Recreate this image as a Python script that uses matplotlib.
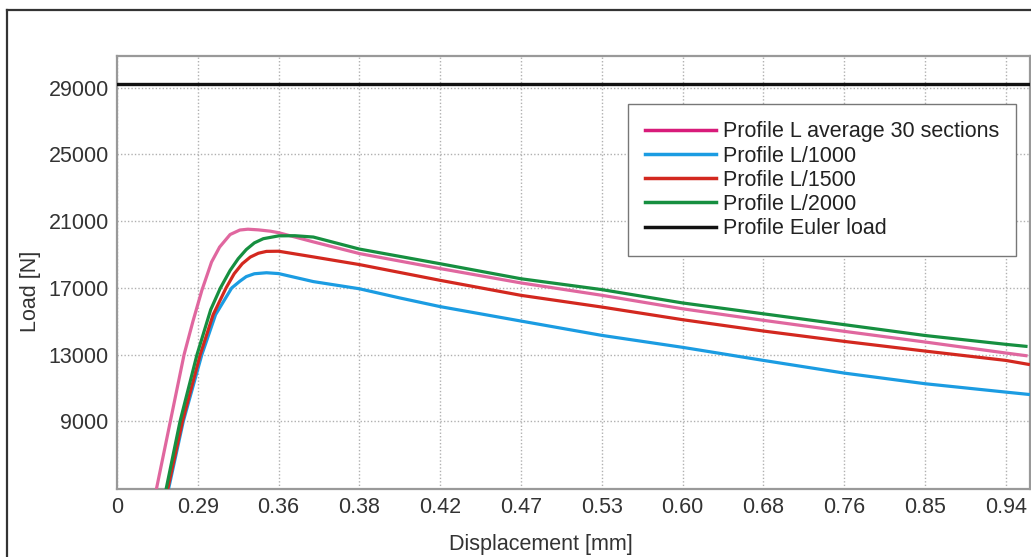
import matplotlib
matplotlib.use("Agg")
import matplotlib.pyplot as plt
from matplotlib.lines import Line2D

plt.rcParams['font.family'] = ['Liberation Sans', 'DejaVu Sans']

# x positions are in tick-slot units (axis labels are non-uniform displacement values)
tick_labels = ["0", "0.29", "0.36", "0.38", "0.42", "0.47", "0.53", "0.60", "0.68", "0.76", "0.85", "0.94"]
y_ticks = [9000, 13000, 17000, 21000, 25000, 29000]

avg_x = [0.49, 0.66, 0.83, 0.94, 1.05, 1.17, 1.27, 1.40, 1.52, 1.62, 1.75, 1.90, 2.0, 2.43,
         3, 4, 5, 6, 7, 8, 9, 10, 11, 11.25]
avg_y = [5000, 9000, 13000, 15000, 16850, 18550, 19450, 20200, 20470, 20520, 20480, 20400, 20310, 19760,
         19060, 18160, 17300, 16560, 15750, 15060, 14400, 13760, 13100, 12940]

l1000_x = [0.64, 0.82, 1.05, 1.22, 1.42, 1.52, 1.60, 1.70, 1.85, 2.0, 2.43,
           3, 3.5, 4, 5, 6, 7, 8, 9, 10, 11, 11.28]
l1000_y = [5000, 9000, 13000, 15400, 17000, 17400, 17680, 17850, 17910, 17860, 17380,
           16950, 16400, 15880, 15015, 14157, 13440, 12657, 11897, 11260, 10757, 10620]

l1500_x = [0.63, 0.81, 1.03, 1.19, 1.35, 1.45, 1.55, 1.65, 1.75, 1.85, 2.0, 2.43,
           3, 4, 5, 6, 7, 8, 9, 10, 11, 11.28]
l1500_y = [5000, 9000, 13000, 15400, 17000, 17850, 18450, 18850, 19080, 19190, 19200, 18860,
           18400, 17455, 16556, 15855, 15097, 14417, 13797, 13217, 12657, 12420]

l2000_x = [0.61, 0.78, 0.99, 1.16, 1.28, 1.40, 1.50, 1.60, 1.70, 1.81, 2.0, 2.2, 2.43,
           3, 4, 5, 6, 7, 8, 9, 10, 11, 11.25]
l2000_y = [5000, 9000, 13000, 15700, 17000, 18050, 18750, 19300, 19700, 19950, 20120, 20130, 20050,
           19330, 18450, 17550, 16900, 16100, 15450, 14800, 14150, 13620, 13500]

euler_load = 29200

series_labels = ["Profile L average 30 sections", "Profile L/1000", "Profile L/1500",
                 "Profile L/2000", "Profile Euler load"]
colors = ["#e0679f", "#1b9ce2", "#d3281f", "#168f40", "#111111"]
legend_colors = ["#d81b7a", "#1b9ce2", "#d3281f", "#168f40", "#111111"]

fig = plt.figure(figsize=(10.31, 5.57), dpi=100)
ax = fig.add_axes([117/1031, 1-489/557, (1030-117)/1031, (489-56)/557])

ax.plot(avg_x, avg_y, color=colors[0], lw=2.3, zorder=3)
ax.plot(l1000_x, l1000_y, color=colors[1], lw=2.3, zorder=3)
ax.plot(l1500_x, l1500_y, color=colors[2], lw=2.3, zorder=3)
ax.plot(l2000_x, l2000_y, color=colors[3], lw=2.3, zorder=3)
ax.axhline(euler_load, color=colors[4], lw=2.4, zorder=3)

ax.set_xlim(0, 11.3)
ax.set_ylim(4950, 30900)
ax.set_xticks(range(len(tick_labels)))
ax.set_xticklabels(tick_labels)
ax.set_yticks(y_ticks)
ax.set_yticklabels([str(v) for v in y_ticks])
ax.tick_params(axis='both', length=0, labelsize=15.5, colors='#333333')
ax.tick_params(axis='y', pad=6)
ax.tick_params(axis='x', pad=6)

ax.grid(True, linestyle=(0, (1, 1.5)), color='#b0b0b0', linewidth=1.0, zorder=1)
for s in ax.spines.values():
    s.set_color('#999999')
    s.set_linewidth(1.6)

ax.set_xlabel("Displacement [mm]", fontsize=15.5, color='#333333')
ax.xaxis.set_label_coords(0.464, -0.105)
ax.set_ylabel("Load [N]", fontsize=15.5, color='#333333')
ax.yaxis.set_label_coords(-0.083, 0.457)

handles = [Line2D([0], [0], color=c, lw=2.5) for c in legend_colors]
leg = ax.legend(handles, series_labels, loc='upper right', bbox_to_anchor=(0.985, 0.889),
                borderaxespad=0, fontsize=15.5, handlelength=3.3, handletextpad=0.3,
                labelspacing=0.15, borderpad=0.8, fancybox=False, framealpha=1,
                edgecolor='#777777')
leg.get_frame().set_linewidth(1.0)
for t in leg.get_texts():
    t.set_color('#222222')

# outer frame (cut off at right and bottom in the original)
fig.add_artist(Line2D([7/1031, 7/1031], [0, 1-10/557], color='#333333', lw=1.6,
                      transform=fig.transFigure))
fig.add_artist(Line2D([7/1031, 1], [1-10/557, 1-10/557], color='#333333', lw=1.6,
                      transform=fig.transFigure))

fig.savefig("out.png", dpi=100)
